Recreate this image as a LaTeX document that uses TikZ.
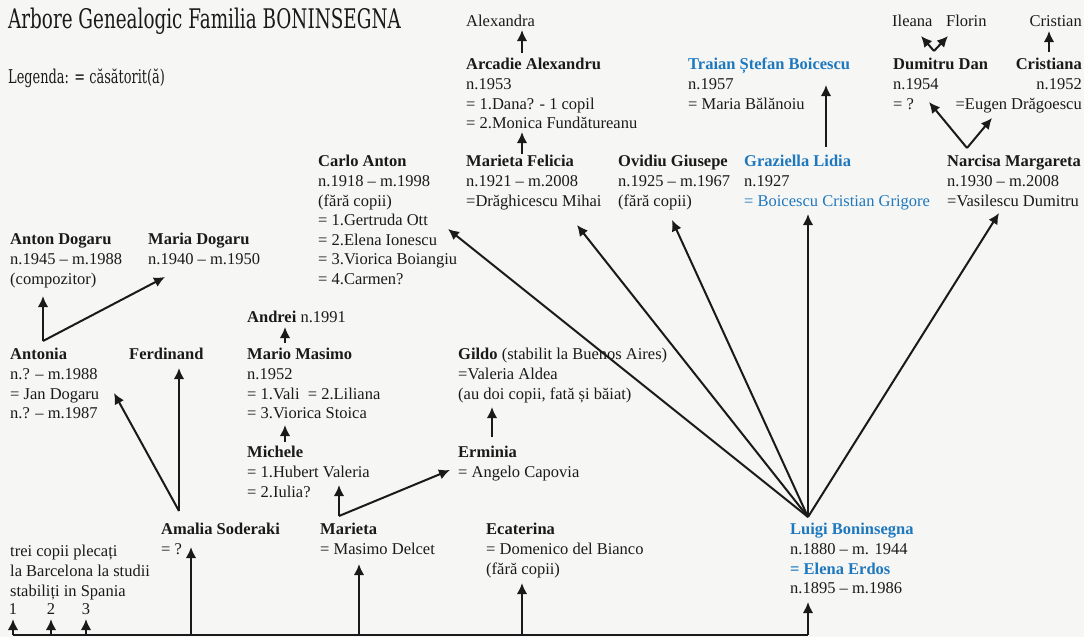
\documentclass[tikz,border=0pt]{standalone}
\usepackage{fontspec}
\usetikzlibrary{arrows.meta}
\setmainfont{Liberation Serif}
\newfontfamily\titlefont[FakeStretch=0.68]{DejaVu Serif}
\definecolor{paper}{HTML}{F6F6F4}
\definecolor{boniblue}{HTML}{1E78BE}
\definecolor{ink}{HTML}{1A1A1A}
\newcommand{\bodyfont}{\fontsize{16.5}{19.6}\selectfont}

\begin{document}
\begin{tikzpicture}[x=1pt,y=-1pt,>={Latex[length=11pt,width=10.5pt]},
  pers/.style={anchor=north west,inner sep=0pt,align=left,font=\bodyfont,text=ink},
  link/.style={->,line width=2pt,draw=ink}]
\fill[paper] (0,0) rectangle (1084,637);
\useasboundingbox (0,0) rectangle (1084,637);

\node[anchor=base west,inner sep=0pt,text=ink,font=\titlefont\fontsize{27}{30}\selectfont] (title) at (8,28) {Arbore Genealogic Familia BONINSEGNA};
\node[anchor=base west,inner sep=0pt,text=ink,font=\titlefont\fontsize{19}{24}\selectfont] (legenda) at (8,83) {Legenda: = căsătorit(ă)};

\node[pers] (alexandra) at (466,13) {\strut Alexandra};
\node[pers] (arcadie) at (466,56) {\strut\textbf{Arcadie Alexandru}\\n.1953\\= 1.Dana? - 1 copil\\= 2.Monica Fundătureanu};
\node[pers,text=boniblue] (traian) at (688,56) {\strut\textbf{Traian Ștefan Boicescu}\\{\color{ink}n.1957}\\{\color{ink}= Maria Bălănoiu}};
\node[pers] (ileana) at (892,13) {\strut Ileana};
\node[pers] (florin) at (946,13) {\strut Florin};
\node[pers,anchor=north east] (cristian) at (1082,13) {\strut Cristian};
\node[pers] (dumitru) at (893,56) {\strut\textbf{Dumitru Dan}\\n.1954\\= ?};
\node[pers,anchor=north east,align=right] (cristiana) at (1082,56) {\strut\textbf{Cristiana}\\n.1952\\=Eugen Drăgoescu};

\node[pers] (carlo) at (318,153) {\strut\textbf{Carlo Anton}\\n.1918 – m.1998\\(fără copii)\\= 1.Gertruda Ott\\= 2.Elena Ionescu\\= 3.Viorica Boiangiu\\= 4.Carmen?};
\node[pers] (felicia) at (466,153) {\strut\textbf{Marieta Felicia}\\n.1921 – m.2008\\=Drăghicescu Mihai};
\node[pers] (ovidiu) at (618,153) {\strut\textbf{Ovidiu Giusepe}\\n.1925 – m.1967\\(fără copii)};
\node[pers,text=boniblue] (graziella) at (744,153) {\strut\textbf{Graziella Lidia}\\{\color{ink}n.1927}\\= Boicescu Cristian Grigore};
\node[pers] (narcisa) at (947,153) {\strut\textbf{Narcisa Margareta}\\n.1930 – m.2008\\=Vasilescu Dumitru};

\node[pers] (antondogaru) at (10,231) {\strut\textbf{Anton Dogaru}\\n.1945 – m.1988\\(compozitor)};
\node[pers] (mariadogaru) at (148,231) {\strut\textbf{Maria Dogaru}\\n.1940 – m.1950};
\node[pers] (andrei) at (247,309) {\strut\textbf{Andrei} n.1991};
\node[pers] (antonia) at (10,346) {\strut\textbf{Antonia}\\n.? – m.1988\\= Jan Dogaru\\n.? – m.1987};
\node[pers] (ferdinand) at (129,346) {\strut\textbf{Ferdinand}};
\node[pers] (mario) at (247,346) {\strut\textbf{Mario Masimo}\\n.1952\\= 1.Vali~ = 2.Liliana\\= 3.Viorica Stoica};
\node[pers] (gildo) at (458,346) {\strut\textbf{Gildo} (stabilit la Buenos Aires)\\=Valeria Aldea\\(au doi copii, fată și băiat)};
\node[pers] (michele) at (247,444) {\strut\textbf{Michele}\\= 1.Hubert Valeria\\= 2.Iulia?};
\node[pers] (erminia) at (458,444) {\strut\textbf{Erminia}\\= Angelo Capovia};

\node[pers] (amalia) at (161,521) {\strut\textbf{Amalia Soderaki}\\= ?};
\node[pers] (marieta) at (320,521) {\strut\textbf{Marieta}\\= Masimo Delcet};
\node[pers] (ecaterina) at (486,521) {\strut\textbf{Ecaterina}\\= Domenico del Bianco\\(fără copii)};
\node[pers] (luigi) at (790,521) {\strut{\color{boniblue}\textbf{Luigi Boninsegna}}\\n.1880 – m. 1944\\{\color{boniblue}\textbf{= Elena Erdos}}\\n.1895 – m.1986};
\node[pers] (spania) at (10,543) {\strut trei copii plecați\\la Barcelona la studii\\stabiliți in Spania};
\node[pers,anchor=north] (copil1) at (13,601) {\strut 1};
\node[pers,anchor=north] (copil2) at (51,601) {\strut 2};
\node[pers,anchor=north] (copil3) at (86,601) {\strut 3};

\coordinate (railL) at (13,635);
\coordinate (railR) at (808,635);
\coordinate (copil1In) at (13,619);
\coordinate (copil2In) at (51,619);
\coordinate (copil3In) at (86,619);
\coordinate (amaliaIn) at (191,547);
\coordinate (marietaIn) at (359,564);
\coordinate (ecaterinaIn) at (522,583);
\coordinate (luigiIn) at (808,602);

\coordinate (luigiFork) at (808,517);
\coordinate (carloIn) at (448,229);
\coordinate (feliciaIn) at (577,225);
\coordinate (ovidiuIn) at (672,220);
\coordinate (graziellaIn) at (808,214);
\coordinate (narcisaIn) at (999,213);

\coordinate (narcisaFork) at (967,148);
\coordinate (dumitruIn) at (929,102);
\coordinate (cristianaIn) at (992,118);
\coordinate (dumitruFork) at (934,51);
\coordinate (ileanaIn) at (921,36);
\coordinate (florinIn) at (948,36);
\coordinate (cristianaOut) at (1049,52);
\coordinate (cristianIn) at (1049,31);
\coordinate (graziellaOut) at (826,147);
\coordinate (traianIn) at (826,85);
\coordinate (feliciaOut) at (522,154);
\coordinate (arcadieIn) at (522,132);
\coordinate (arcadieOut) at (522,53);
\coordinate (alexandraIn) at (522,30);

\coordinate (antoniaFork) at (43,341);
\coordinate (antonDogaruIn) at (43,296);
\coordinate (mariaDogaruIn) at (165,277);
\coordinate (amaliaFork) at (179,511);
\coordinate (antoniaIn) at (114,393);
\coordinate (ferdinandIn) at (179,368);
\coordinate (marietaFork) at (339,516);
\coordinate (micheleIn) at (339,485);
\coordinate (erminiaIn) at (450,470);
\coordinate (micheleOut) at (285,442);
\coordinate (marioIn) at (285,425);
\coordinate (marioOut) at (285,343);
\coordinate (andreiIn) at (285,327);
\coordinate (erminiaOut) at (492,437);
\coordinate (gildoIn) at (492,407);

\draw[line width=2pt,ink] (railL) -- (railR);
\draw[link] (copil1In |- railL) -- (copil1In);
\draw[link] (copil2In |- railL) -- (copil2In);
\draw[link] (copil3In |- railL) -- (copil3In);
\draw[link] (amaliaIn |- railL) -- (amaliaIn);
\draw[link] (marietaIn |- railL) -- (marietaIn);
\draw[link] (ecaterinaIn |- railL) -- (ecaterinaIn);
\draw[link] (luigiIn |- railL) -- (luigiIn);

\draw[link] (luigiFork) -- (carloIn);
\draw[link] (luigiFork) -- (feliciaIn);
\draw[link] (luigiFork) -- (ovidiuIn);
\draw[link] (luigiFork) -- (graziellaIn);
\draw[link] (luigiFork) -- (narcisaIn);

\draw[link] (narcisaFork) -- (dumitruIn);
\draw[link] (narcisaFork) -- (cristianaIn);
\draw[link] (dumitruFork) -- (ileanaIn);
\draw[link] (dumitruFork) -- (florinIn);
\draw[link] (cristianaOut) -- (cristianIn);
\draw[link] (graziellaOut) -- (traianIn);
\draw[link] (feliciaOut) -- (arcadieIn);
\draw[link] (arcadieOut) -- (alexandraIn);

\draw[link] (antoniaFork) -- (antonDogaruIn);
\draw[link] (antoniaFork) -- (mariaDogaruIn);
\draw[link] (amaliaFork) -- (antoniaIn);
\draw[link] (amaliaFork) -- (ferdinandIn);
\draw[link] (marietaFork) -- (micheleIn);
\draw[link] (marietaFork) -- (erminiaIn);
\draw[link] (micheleOut) -- (marioIn);
\draw[link] (marioOut) -- (andreiIn);
\draw[link] (erminiaOut) -- (gildoIn);
\end{tikzpicture}
\end{document}
